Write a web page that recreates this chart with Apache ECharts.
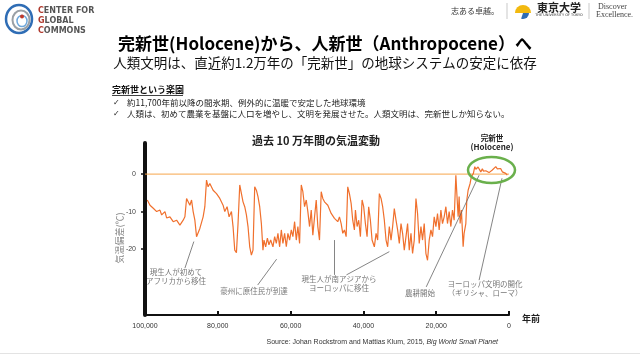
<!DOCTYPE html>
<html><head><meta charset="utf-8">
<script src="https://cdn.jsdelivr.net/npm/echarts@6/dist/echarts.min.js"></script>
<style>html,body{margin:0;padding:0;background:#fff}#c{width:640px;height:360px}</style>
</head><body><div id="c"></div><script>
// ---- data (years before present, temperature anomaly in °C) ----
const yearsAgo = [99370,98630,97730,96790,95890,95420,94520,94060,93150,92250,91320,90410,89510,89040,88580,87670,87210,86770,86300,85840,84930,84030,83560,83100,82660,82190,81290,80360,79450,78550,78080,77450,76900,76250,75810,75340,74880,74440,73970,
73510,73070,72600,72140,71700,71230,70770,70330,69860,69400,68960,68490,68030,67590,67310,66850,66380,65950,65480,64850,64380,63920,63480,63010,62550,62110,61640,61180,60740,60270,59810,59370,58900,58440,58000,57530,57070,56630,56160,55700,55260,54790,54330,53890,53420,52960,52520,52060,51590,51150,50690,49780,48850,47950,
47480,47040,46580,46110,45670,45210,44740,44300,43840,43370,42930,42470,42190,41730,41290,40820,40360,39920,39450,38990,38550,38080,37620,36990,36520,36080,35620,35150,34710,34250,33780,33340,32880,32410,31970,31510,31040,30600,30140,29670,29230,28770,28300,27860,27400,26930,26490,26030,25560,25120,24660,24190,23750,23290,22820,22380,21920,
21450,21010,20550,20080,19640,19180,18710,18270,17810,17340,16900,16440,15970,15530,15070,14600,14330,13970,13700,13420,13070,12600,12330,11860,11590,11230,10690,10330,9780,9400,9100,8850,8500,8220,7750,7320,7000,6380,6000,5480,5000,4580,4100,3640,3200,2740,2300,1840,1400,900,470];
const tempAnomaly = [-6.9,-8.3,-9.1,-10.0,-9.6,-10.9,-10.0,-11.7,-11.4,-12.7,-12.3,-13.6,-12.3,-11.4,-6.5,-8.3,-6.9,-10.0,-12.3,-16.7,-14.5,-11.4,-8.7,-1.6,-3.4,-2.5,-4.3,-5.2,-6.5,-8.3,-10.0,-8.7,-11.4,-10.0,-14.0,-20.3,-21.0,-13.2,-2.9,
-5.2,-7.4,-8.7,-10.9,-14.0,-19.4,-21.6,-20.3,-3.4,-4.3,-6.0,-8.7,-13.2,-20.3,-17.6,-19.4,-17.1,-18.9,-17.6,-19.4,-16.7,-18.5,-15.8,-19.4,-14.9,-18.5,-15.8,-19.4,-15.8,-17.6,-14.9,-16.7,-12.7,-17.6,-14.0,-18.5,-2.9,-4.7,-8.7,-6.9,-10.0,-14.0,-9.6,-16.3,-11.4,-6.9,-14.0,-17.6,-4.7,-6.5,-7.4,-8.3,-10.5,-11.8,
-11.4,-12.7,-11.4,-13.2,-15.8,-14.9,-16.7,-3.4,-5.2,-7.8,-12.3,-14.9,-9.6,-14.0,-12.3,-16.7,-6.9,-8.7,-13.2,-16.7,-8.7,-12.3,-17.6,-19.4,-15.8,-17.6,-5.2,-6.5,-8.7,-12.3,-17.6,-19.4,-14.0,-17.6,-14.0,-9.2,-12.3,-14.9,-18.5,-13.2,-15.8,-20.3,-16.7,-13.2,-20.3,-15.8,-21.2,-17.6,-6.5,-10.5,-18.5,-14.0,-17.6,-13.2,-21.2,-23.0,-17.6,
-14.9,-16.7,-11.4,-14.0,-10.5,-14.9,-9.6,-13.2,-11.4,-8.7,-13.2,-10.0,-14.0,-9.6,-12.3,-0.3,-5.2,-11.4,-6.0,-13.2,-9.6,-19.4,-15.8,-13.2,-6.9,-4.3,-2.5,-0.7,0.2,2.0,1.3,1.1,1.9,1.5,0.6,1.4,0.8,0.9,1.3,0.4,0.7,1.1,1.6,2.0,1.4,1.1,1.5,0.6,0.9,0.2,-0.3];
const xTicks = [100000, 80000, 60000, 40000, 20000, 0];
const yTicks = [0, -10, -20];
// annotation arrows: [fromYear, fromTemp, toYear, toTemp]
const arrows = [
  [89040, -25.1, 86580, -18.0],
  [69040, -29.6, 63840, -22.7],
  [47950, -26.9, 47950, -17.6],
  [44660, -26.9, 32880, -20.7],
  [22740, -30.1, 8220, -0.3],
  [8220, -28.3, 1920, -1.1]
];
const annotations = [
  {text: '現生人が初めて\nアフリカから移住', x: 176, y: 277},
  {text: '豪州に原住民が到達', x: 254, y: 291},
  {text: '現生人が南アジアから\nヨーロッパに移住', x: 339, y: 284},
  {text: '農耕開始', x: 420, y: 293},
  {text: 'ヨーロッパ文明の開化\n（ギリシャ、ローマ）', x: 485, y: 289}
];

const JP = '"Noto Sans CJK JP", "DejaVu Sans", sans-serif';
const lineData = yearsAgo.map((y, i) => [y, tempAnomaly[i]]);

const chart = echarts.init(document.getElementById('c'));
const graphics = [
  // slide header
  {type:'text', style:{text:'完新世(Holocene)から、人新世（Anthropocene）へ', x:325, y:44, font:'bold 17px '+JP, fill:'#000', textAlign:'center', textVerticalAlign:'middle'}},
  {type:'text', style:{text:'人類文明は、直近約1.2万年の「完新世」の地球システムの安定に依存', x:325, y:63, font:'13.5px '+JP, fill:'#111', textAlign:'center', textVerticalAlign:'middle'}},
  {type:'text', style:{text:'完新世という楽園', x:112, y:90, font:'bold 9px '+JP, fill:'#111', textAlign:'left', textVerticalAlign:'middle'}},
  {type:'line', shape:{x1:112, y1:95.5, x2:183, y2:95.5}, style:{stroke:'#111', lineWidth:0.8}},
  {type:'text', style:{text:'✓', x:113, y:103, font:'8px "DejaVu Sans"', fill:'#222', textAlign:'left', textVerticalAlign:'middle'}},
  {type:'text', style:{text:'約11,700年前以降の間氷期、例外的に温暖で安定した地球環境', x:127, y:103, font:'8.5px '+JP, fill:'#222', textAlign:'left', textVerticalAlign:'middle'}},
  {type:'text', style:{text:'✓', x:113, y:114, font:'8px "DejaVu Sans"', fill:'#222', textAlign:'left', textVerticalAlign:'middle'}},
  {type:'text', style:{text:'人類は、初めて農業を基盤に人口を増やし、文明を発展させた。人類文明は、完新世しか知らない。', x:127, y:114, font:'8.5px '+JP, fill:'#222', textAlign:'left', textVerticalAlign:'middle'}},
  // logo left
  {type:'ellipse', shape:{cx:19, cy:19, rx:13, ry:14}, style:{fill:'none', stroke:'#2f6db5', lineWidth:2.5}},
  {type:'ellipse', shape:{cx:21, cy:20, rx:8.5, ry:9.5}, style:{fill:'none', stroke:'#9aa0a6', lineWidth:2}},
  {type:'ellipse', shape:{cx:22, cy:21, rx:5, ry:5.5}, style:{fill:'none', stroke:'#6fa8dc', lineWidth:1.5}},
  {type:'circle', shape:{cx:22, cy:16.5, r:2}, style:{fill:'#c0392b'}},
  {type:'text', style:{text:'{r|C}{g|ENTER FOR}', x:38, y:11, textVerticalAlign:'middle', rich:{r:{fill:'#b03a2e', font:'bold 8px "DejaVu Sans"'}, g:{fill:'#555', font:'bold 8px "DejaVu Sans"'}}}},
  {type:'text', style:{text:'{r|G}{g|LOBAL}', x:38, y:21, textVerticalAlign:'middle', rich:{r:{fill:'#b03a2e', font:'bold 8px "DejaVu Sans"'}, g:{fill:'#555', font:'bold 8px "DejaVu Sans"'}}}},
  {type:'text', style:{text:'{r|C}{g|OMMONS}', x:38, y:31, textVerticalAlign:'middle', rich:{r:{fill:'#b03a2e', font:'bold 8px "DejaVu Sans"'}, g:{fill:'#555', font:'bold 8px "DejaVu Sans"'}}}},
  // logo right
  {type:'text', style:{text:'志ある卓越。', x:475, y:11, font:'8px '+JP, fill:'#333', textAlign:'center', textVerticalAlign:'middle'}},
  {type:'line', shape:{x1:507, y1:3, x2:507, y2:19}, style:{stroke:'#bbb', lineWidth:0.8}},
  {type:'sector', shape:{cx:523, cy:13, r0:0, r:8, startAngle:Math.PI, endAngle:Math.PI*2}, style:{fill:'#f2b90f'}},
  {type:'sector', shape:{cx:523, cy:13, r0:0, r:6, startAngle:0, endAngle:Math.PI*0.6}, style:{fill:'#2f6db5'}},
  {type:'text', style:{text:'東京大学', x:559, y:8, font:'bold 11px '+JP, fill:'#222', textAlign:'center', textVerticalAlign:'middle'}},
  {type:'text', style:{text:'THE UNIVERSITY OF TOKYO', x:559, y:15.5, font:'3.5px "DejaVu Sans"', fill:'#333', textAlign:'center', textVerticalAlign:'middle'}},
  {type:'line', shape:{x1:589, y1:3, x2:589, y2:19}, style:{stroke:'#bbb', lineWidth:0.8}},
  {type:'text', style:{text:'Discover', x:598, y:7, font:'8px "Liberation Serif"', fill:'#444', textAlign:'left', textVerticalAlign:'middle'}},
  {type:'text', style:{text:'Excellence.', x:596, y:15, font:'8px "Liberation Serif"', fill:'#444', textAlign:'left', textVerticalAlign:'middle'}},
  // chart title & notes
  {type:'text', style:{text:'過去 10 万年間の気温変動', x:316, y:141, font:'bold 11px '+JP, fill:'#222', textAlign:'center', textVerticalAlign:'middle'}},
  {type:'text', style:{text:'完新世', x:492, y:138, font:'bold 7.5px '+JP, fill:'#222', textAlign:'center', textVerticalAlign:'middle'}},
  {type:'text', style:{text:'(Holocene)', x:492, y:147, font:'bold 8px '+JP, fill:'#222', textAlign:'center', textVerticalAlign:'middle'}},
  {type:'ellipse', shape:{cx:491.5, cy:170, rx:23.5, ry:13}, style:{fill:'none', stroke:'#6AB04C', lineWidth:2.5}, z:10},
  {type:'text', x:120, y:238, rotation:Math.PI/2, style:{text:'気温偏差(℃)', font:'9px '+JP, fill:'#888', textAlign:'center', textVerticalAlign:'middle'}},
  {type:'text', style:{text:'年前', x:531, y:319, font:'bold 9px '+JP, fill:'#222', textAlign:'center', textVerticalAlign:'middle'}},
  {type:'line', shape:{x1:0, y1:353.5, x2:640, y2:353.5}, style:{stroke:'#e3e3e3', lineWidth:1}}
];
annotations.forEach(a => graphics.push({type:'text', style:{text:a.text, x:a.x, y:a.y, font:'7.5px '+JP, fill:'#777', textAlign:'center', textVerticalAlign:'middle', lineHeight:9}}));

chart.setOption({
  animation:false,
  backgroundColor:'#fff',
  title:{text:'{a|Source: Johan Rockstrom and Mattias Klum, 2015, }{b|Big World Small Planet}', right:137, top:334,
    textStyle:{fontWeight:'normal', rich:{a:{fontSize:7, color:'#333', fontWeight:'normal', fontFamily:'"Liberation Sans"'}, b:{fontSize:7, color:'#333', fontWeight:'normal', fontStyle:'italic', fontFamily:'"Liberation Sans"'}}}},
  grid:{left:145, right:131, top:143, bottom:45},
  xAxis:{type:'value', min:0, max:100000, interval:20000, inverse:true, position:'bottom',
    axisLine:{onZero:false, lineStyle:{color:'#111', width:2}},
    axisTick:{show:true, inside:true, length:4, lineStyle:{color:'#111', width:2}},
    splitLine:{show:false},
    axisLabel:{fontSize:7, color:'#333', margin:8, fontFamily:'"Liberation Sans Narrow", "Liberation Sans"', formatter:v => xTicks.includes(v) ? v.toLocaleString('en-US') : ''}},
  yAxis:{type:'value', min:-37.6, max:8.3, position:'left',
    axisLine:{show:true, onZero:false, lineStyle:{color:'#111', width:4}},
    axisTick:{show:true, length:4, customValues:yTicks, lineStyle:{color:'#111', width:1.5}},
    axisLabel:{customValues:yTicks, fontSize:7, color:'#444', margin:9},
    splitLine:{show:false}},
  graphic:graphics,
  series:[
    {type:'line', z:1, data:[[100000,0],[0,0]], symbol:'none', silent:true,
      lineStyle:{color:'#F6A54B', width:1},
      markLine:{silent:true, symbol:['none','arrow'], symbolSize:[0,7], label:{show:false},
        lineStyle:{color:'#666', width:0.8, type:'solid'},
        data: arrows.map(a => [{coord:[a[0], a[1]]}, {coord:[a[2], a[3]]}])}},
    {type:'line', z:3, data:lineData, symbol:'none', silent:true,
      lineStyle:{color:'#F0702D', width:1.2}}
  ]
});
</script></body></html>
